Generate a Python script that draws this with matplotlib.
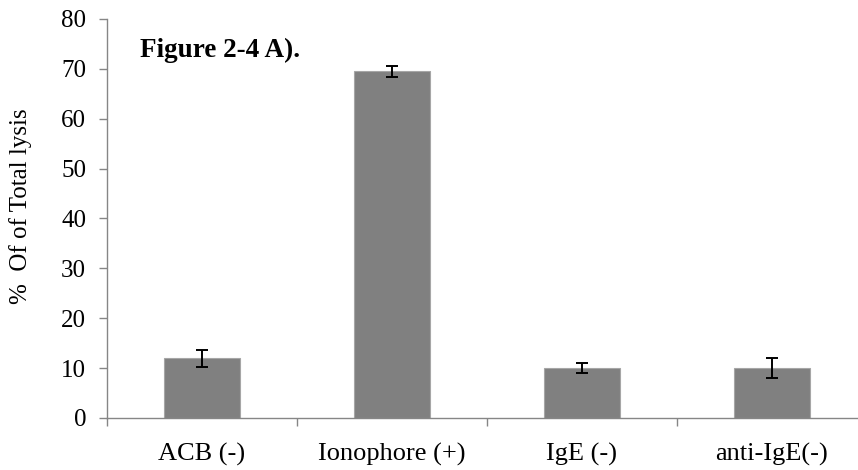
import numpy as np
import matplotlib.pyplot as plt

plt.rcParams['font.family'] = ['Liberation Serif', 'DejaVu Serif']

# Percent of total lysis per treatment, with error
conditions = ["ACB (-)", "Ionophore (+)", "IgE (-)", "anti-IgE(-)"]
lysis_pct = [12.0, 69.5, 10.0, 10.0]
lysis_err = [1.7, 1.1, 1.0, 2.0]

fig = plt.figure(figsize=(8.58, 4.70), dpi=100)
ax = fig.add_axes([107 / 858, 1 - 418 / 470, 760 / 858, 399 / 470])

x = np.arange(len(conditions))
ax.bar(x, lysis_pct, width=0.4, color="#808080", edgecolor="#a6a6a6", linewidth=0.8, zorder=2)
ax.errorbar(x, lysis_pct, yerr=lysis_err, fmt="none", ecolor="black",
            elinewidth=1.4, capsize=4.5, capthick=1.4, zorder=3)

ax.set_xlim(-0.5, len(conditions) - 0.5)
ax.set_ylim(0, 80)
ax.set_yticks(np.arange(0, 81, 10))
ax.set_xticks(x)
ax.set_xticklabels(conditions)
# category boundary ticks on the x axis
ax.set_xticks(np.arange(-0.5, len(conditions), 1.0), minor=True)
ax.tick_params(axis="x", which="major", length=0, pad=18, labelsize=19)
ax.tick_params(axis="x", which="minor", length=6, color="#868686", width=1)
ax.tick_params(axis="y", length=6, color="#868686", width=1, labelsize=18, pad=9)

for side in ["top", "right"]:
    ax.spines[side].set_visible(False)
for side in ["left", "bottom"]:
    ax.spines[side].set_color("#868686")
    ax.spines[side].set_linewidth(1)

ax.set_ylabel("%  Of of Total lysis", fontsize=18)
ax.yaxis.set_label_coords(-75 / 760, 0.53)
fig.text(140 / 858, 1 - 50 / 470, "Figure 2-4 A).", fontsize=19.5, fontweight="bold",
         ha="left", va="center")

fig.savefig("out.png", dpi=100)
